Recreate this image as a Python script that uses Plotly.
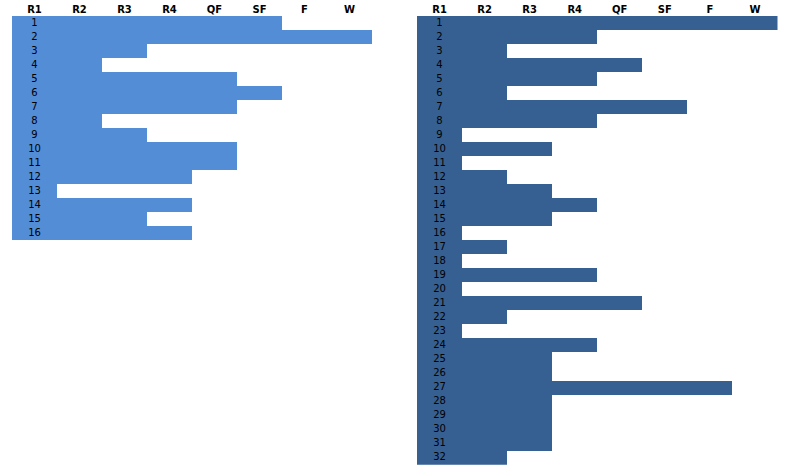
import plotly.graph_objects as go

rounds = ["R1", "R2", "R3", "R4", "QF", "SF", "F", "W"]

left_rows = [str(i) for i in range(1, 17)]
left_reached = [6, 8, 3, 2, 5, 6, 5, 2, 3, 5, 5, 4, 1, 4, 3, 4]

right_rows = [str(i) for i in range(1, 33)]
right_reached = [8, 4, 2, 5, 4, 2, 6, 4, 1, 3, 1, 2, 3, 4, 3, 1,
                 2, 1, 4, 1, 5, 2, 1, 4, 3, 3, 7, 3, 3, 3, 3, 2]

left_color = "#538DD5"
right_color = "#366092"

W, H = 785, 473
fig = go.Figure()

label_font = dict(family="DejaVu Sans, Liberation Sans, sans-serif", size=10, color="black")

def add_panel(rows, vals, color, xa, ya):
    fig.add_trace(go.Bar(
        y=rows, x=vals, base=0, orientation="h",
        marker=dict(color=color, line=dict(width=0)),
        xaxis=xa, yaxis=ya, showlegend=False, hoverinfo="skip",
    ))
    fig.add_trace(go.Scatter(
        y=rows, x=[0.5] * len(rows), mode="text", text=rows,
        textposition="middle center", textfont=label_font,
        xaxis=xa, yaxis=ya, showlegend=False, hoverinfo="skip",
    ))

add_panel(left_rows, left_reached, left_color, "x", "y")
add_panel(right_rows, right_reached, right_color, "x2", "y2")

top = 16
row_h = 14.02

def xaxis_cfg(x0, x1):
    return dict(
        domain=[x0 / W, x1 / W], range=[0, 8], side="top",
        tickmode="array", tickvals=[i + 0.5 for i in range(8)], ticktext=rounds,
        tickfont=dict(family="DejaVu Sans, Liberation Sans, sans-serif", size=10, color="black", weight="bold"),
        ticks="", showgrid=False, zeroline=False, showline=False, automargin=False,
        fixedrange=True,
    )

def yaxis_cfg(rows, anchor):
    n = len(rows)
    bottom = top + n * row_h
    return dict(
        domain=[1 - bottom / H, 1 - top / H], type="category",
        categoryorder="array", categoryarray=rows,
        range=[n - 0.5, -0.5],
        showticklabels=False, ticks="", showgrid=False, zeroline=False,
        showline=False, automargin=False, anchor=anchor, fixedrange=True,
    )

fig.update_layout(
    width=W, height=H,
    margin=dict(l=0, r=0, t=0, b=0),
    paper_bgcolor="white", plot_bgcolor="white",
    bargap=0,
    xaxis=dict(anchor="y", **xaxis_cfg(12, 372)),
    xaxis2=dict(anchor="y2", **xaxis_cfg(417, 777.5)),
    yaxis=yaxis_cfg(left_rows, "x"),
    yaxis2=yaxis_cfg(right_rows, "x2"),
)

fig.write_html("out.html", config={"displayModeBar": False},
               post_script="document.body.style.margin='0';document.body.style.overflow='hidden';")
